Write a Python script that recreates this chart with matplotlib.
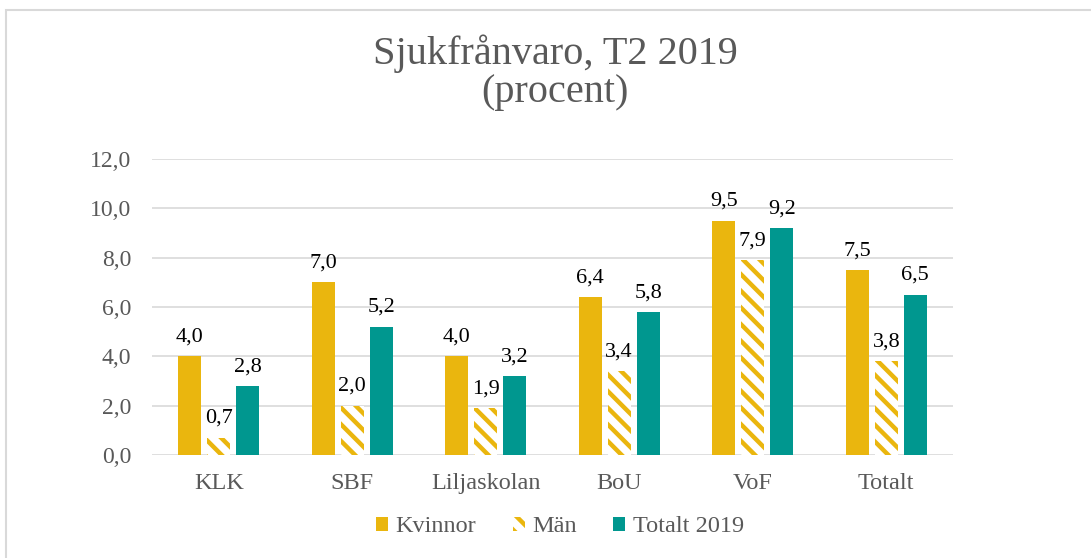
import matplotlib
matplotlib.use("Agg")
import matplotlib.pyplot as plt
from matplotlib.patches import Rectangle, Patch
import numpy as np

categories = ["KLK", "SBF", "Liljaskolan", "BoU", "VoF", "Totalt"]
kvinnor = [4.0, 7.0, 4.0, 6.4, 9.5, 7.5]
man = [0.7, 2.0, 1.9, 3.4, 7.9, 3.8]
totalt = [2.8, 5.2, 3.2, 5.8, 9.2, 6.5]
series_names = ["Kvinnor", "Män", "Totalt 2019"]
yticks = [0, 2, 4, 6, 8, 10, 12]

YELLOW = "#EAB60E"
TEAL = "#00978F"
GRAY = "#595959"
FONT = ["Liberation Serif", "DejaVu Serif"]

plt.rcParams["font.family"] = FONT
plt.rcParams["hatch.linewidth"] = 3.2

fig = plt.figure(figsize=(10.91, 5.58), dpi=100)
W, H = 1091, 558
ax = fig.add_axes([152 / W, 1 - 455 / H, (953 - 152) / W, (455 - 159) / H])

# outer frame (left & top visible)
fig.patches.append(Rectangle((6 / W, -0.1), 1.2, 1 - 10 / H + 0.1, transform=fig.transFigure,
                             fill=False, edgecolor="#D9D9D9", linewidth=1.5, zorder=0))

x = np.arange(len(categories))
bw = 0.172
off = 0.217

def fmt(v):
    return f"{v:.1f}".replace(".", ",")

b1 = ax.bar(x - off, kvinnor, bw, color=YELLOW, zorder=3)
b2 = ax.bar(x, man, bw, facecolor="white", edgecolor=YELLOW, hatch="\\\\", linewidth=0, zorder=3)
b3 = ax.bar(x + off, totalt, bw, color=TEAL, zorder=3)

for bars, vals in ((b1, kvinnor), (b2, man), (b3, totalt)):
    for r, v in zip(bars, vals):
        ax.annotate(fmt(v), (r.get_x() + r.get_width() / 2, v), xytext=(0, 7),
                    textcoords="offset points", ha="center", va="bottom",
                    fontsize=16, color="black", zorder=4)

ax.set_xlim(-0.5, len(categories) - 0.5)
ax.set_ylim(0, 12)
ax.set_yticks(yticks)
ax.set_yticklabels([fmt(v) for v in yticks], fontsize=17, color=GRAY)
ax.set_xticks(x)
ax.set_xticklabels(categories, fontsize=17.5, color=GRAY)
ax.tick_params(axis="both", length=0)
ax.tick_params(axis="y", pad=15)
ax.tick_params(axis="x", pad=13)
ax.yaxis.grid(True, color="#D9D9D9", linewidth=1.2, zorder=0)
ax.set_axisbelow(True)
for s in ax.spines.values():
    s.set_visible(False)

fig.text(555 / W, 1 - 73 / H, "Sjukfrånvaro, T2 2019\n(procent)", ha="center", va="center",
         fontsize=29, color=GRAY, linespacing=1.03)

handles = [Patch(facecolor=YELLOW, edgecolor=YELLOW, linewidth=0),
           Patch(facecolor="white", edgecolor=YELLOW, hatch="\\\\", linewidth=0),
           Patch(facecolor=TEAL, edgecolor=TEAL, linewidth=0)]
leg = fig.legend(handles, series_names, loc="center", bbox_to_anchor=(560 / W, 1 - 527 / H),
                 ncol=3, frameon=False, fontsize=17.5,
                 handlelength=0.5, handleheight=0.5, handletextpad=0.3, columnspacing=1.5)
for t in leg.get_texts():
    t.set_fontfamily(FONT)
    t.set_color(GRAY)

fig.savefig("out.png", dpi=100)
